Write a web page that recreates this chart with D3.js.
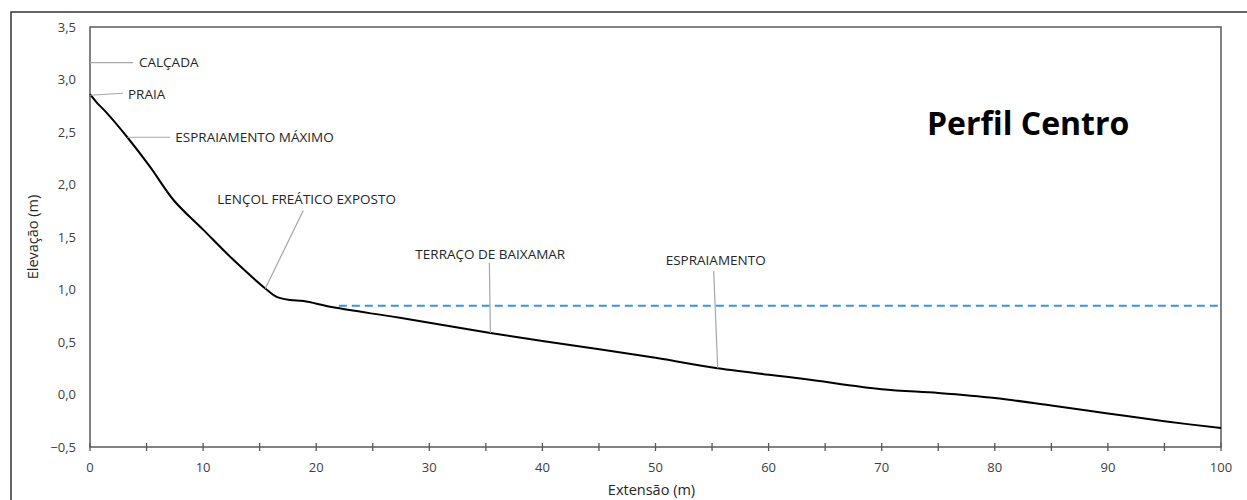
<!DOCTYPE html>
<meta charset="utf-8">
<style>
body { margin: 0; background: #fff; }
text { font-family: "Open Sans", sans-serif; }
.tick-label { font-size: 13px; fill: #404040; }
.axis-title { font-size: 14.5px; fill: #262626; }
.note { font-size: 13.5px; fill: #262626; }
.leader { stroke: #a6a6a6; stroke-width: 1.2px; fill: none; }
.profile { fill: none; stroke: #000; stroke-width: 2px; }
.water { fill: none; stroke: #3a92e6; stroke-width: 2px; stroke-dasharray: 8 5; }
</style>
<svg width="1247" height="500"></svg>
<script src="https://cdn.jsdelivr.net/npm/d3@7"></script>
<script>

// profile (distance m, elevation m)
let distance = [0, 0.6, 1.5, 3.3, 5.3, 7.4, 10, 12.7, 15.5, 16.5, 17.7, 18.9, 21.5, 27.4, 35.4, 40, 50, 55.5, 63, 70, 75, 80, 85, 90, 95, 100];
let elevation = [2.86, 2.78, 2.68, 2.45, 2.17, 1.85, 1.57, 1.28, 1.01, 0.93, 0.90, 0.89, 0.83, 0.73, 0.586, 0.51, 0.35, 0.25, 0.15, 0.05, 0.015, -0.033, -0.105, -0.18, -0.255, -0.32];

// water table level (dashed)
let waterStart = 22, waterEnd = 100, waterLevel = 0.845;

let xTicks = [0, 10, 20, 30, 40, 50, 60, 70, 80, 90, 100];
let yTicks = [-0.5, 0, 0.5, 1, 1.5, 2, 2.5, 3, 3.5];

// labelled points on the profile
let noteLabels = ["CALÇADA", "PRAIA", "ESPRAIAMENTO MÁXIMO", "LENÇOL FREÁTICO EXPOSTO", "TERRAÇO DE BAIXAMAR", "ESPRAIAMENTO"];
let noteX = [0, 0, 3.3, 15.5, 35.4, 55.5];
let noteY = [3.16, 2.85, 2.45, 1.01, 0.586, 0.25];

// where each leader ends and its text sits, pixels from the point
let noteLayout = [
    {lx: 43, ly: 0, tx: 49, ty: 0},
    {lx: 33, ly: -2, tx: 38, ty: -1},
    {lx: 43, ly: 0, tx: 48, ty: 0},
    {lx: 38, ly: -78, tx: -48, ty: -89},
    {lx: -1, ly: -70, tx: -75, ty: -79},
    {lx: -4, ly: -97, tx: -52, ty: -108}
];

let svg = d3.select("svg"),
    plot = {left: 90, top: 27, right: 1221, bottom: 447};

let x = d3.scaleLinear().domain([0, 100]).range([plot.left, plot.right]),
    y = d3.scaleLinear().domain([-0.5, 3.5]).range([plot.bottom, plot.top]);

let fmt = d3.format(".1f");

// outer frame
svg.append("rect")
    .attr("x", 11).attr("y", 12)
    .attr("width", 1260).attr("height", 520)
    .attr("fill", "none").attr("stroke", "#333").attr("stroke-width", 1.5);

// plot frame
svg.append("rect")
    .attr("x", plot.left).attr("y", plot.top)
    .attr("width", plot.right - plot.left).attr("height", plot.bottom - plot.top)
    .attr("fill", "none").attr("stroke", "#595959").attr("stroke-width", 1.5);

// x axis: ticks every 5 crossing the line, labels every 10
let minor = d3.range(0, 101, 5);
svg.append("g").selectAll("line")
    .data(minor)
    .enter().append("line")
    .attr("x1", d => x(d)).attr("x2", d => x(d))
    .attr("y1", plot.bottom - 4).attr("y2", plot.bottom + 4)
    .attr("stroke", "#595959").attr("stroke-width", 1.3);

svg.append("g").selectAll("text")
    .data(xTicks)
    .enter().append("text")
    .attr("class", "tick-label")
    .attr("x", d => x(d))
    .attr("y", plot.bottom + 20)
    .attr("dy", "0.35em")
    .attr("text-anchor", "middle")
    .text(d => d);

svg.append("g").selectAll("text")
    .data(yTicks)
    .enter().append("text")
    .attr("class", "tick-label")
    .attr("x", plot.left - 14)
    .attr("y", d => y(d))
    .attr("dy", "0.35em")
    .attr("text-anchor", "end")
    .text(d => fmt(d).replace(".", ","));

svg.append("text")
    .attr("class", "axis-title")
    .attr("x", (plot.left + plot.right) / 2 - 4)
    .attr("y", 490)
    .attr("dy", "0.35em")
    .attr("text-anchor", "middle")
    .text("Extensão (m)");

svg.append("text")
    .attr("class", "axis-title")
    .attr("transform", "translate(33," + ((plot.top + plot.bottom) / 2) + ") rotate(-90)")
    .attr("dy", "0.35em")
    .attr("text-anchor", "middle")
    .text("Elevação (m)");

// water level
svg.append("line")
    .attr("class", "water")
    .attr("x1", x(waterStart)).attr("x2", x(waterEnd))
    .attr("y1", y(waterLevel)).attr("y2", y(waterLevel));

// profile
let points = distance.map((d, i) => [d, elevation[i]]);
let line = d3.line()
    .curve(d3.curveCatmullRom.alpha(0.5))
    .x(d => x(d[0]))
    .y(d => y(d[1]));

svg.append("path")
    .attr("class", "profile")
    .attr("d", line(points));

// annotations
let notes = noteLabels.map((label, i) => ({label: label, px: x(noteX[i]), py: y(noteY[i]), lay: noteLayout[i]}));

let note = svg.append("g").selectAll("g")
    .data(notes)
    .enter().append("g");

note.append("line")
    .attr("class", "leader")
    .attr("x1", d => d.px).attr("y1", d => d.py)
    .attr("x2", d => d.px + d.lay.lx).attr("y2", d => d.py + d.lay.ly);

note.append("text")
    .attr("class", "note")
    .attr("x", d => d.px + d.lay.tx)
    .attr("y", d => d.py + d.lay.ty)
    .attr("dy", "0.35em")
    .text(d => d.label);

// title
svg.append("text")
    .attr("x", 927)
    .attr("y", 135)
    .attr("font-size", "32px")
    .attr("font-weight", "bold")
    .attr("fill", "#000")
    .text("Perfil Centro");

</script>
